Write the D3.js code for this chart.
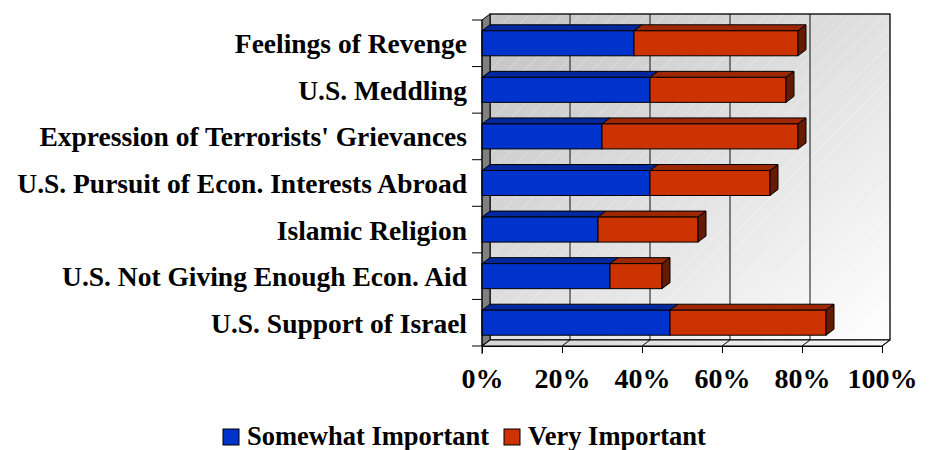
<!DOCTYPE html>
<html><head><meta charset="utf-8">
<script src="https://cdn.jsdelivr.net/npm/d3@7"></script>
<style>body{margin:0;background:#fff}svg{display:block}</style>
</head><body>
<script>
const categories = ["Feelings of Revenge","U.S. Meddling","Expression of Terrorists' Grievances","U.S. Pursuit of Econ. Interests Abroad","Islamic Religion","U.S. Not Giving Enough Econ. Aid","U.S. Support of Israel"];
const somewhat = [38, 42, 30, 42, 29, 32, 47];
const very = [41, 34, 49, 30, 25, 13, 39];
const seriesNames = ["Somewhat Important", "Very Important"];
const tickValues = [0, 20, 40, 60, 80, 100];
const tickLabels = ["0%", "20%", "40%", "60%", "80%", "100%"];

const W = 930, H = 450;
const DX = 8, DY = -6;
const x = d3.scaleLinear().domain([0, 100]).range([482, 882]);
const y = d3.scaleBand().domain(categories).range([20, 346]).padding(0);
const barH = 25;
const colors = {front: ["#0033cc", "#cc3300"], top: ["#00289c", "#9c2700"], side: ["#001a66", "#661a00"]};
const font = "'Liberation Serif','Times New Roman',serif";

const svg = d3.select("body").append("svg").attr("width", W).attr("height", H);
const defs = svg.append("defs");
const g1 = defs.append("linearGradient").attr("id", "wall").attr("x1", 0).attr("y1", 0).attr("x2", 1).attr("y2", 1);
g1.append("stop").attr("offset", "0%").attr("stop-color", "#c2c2c2");
g1.append("stop").attr("offset", "100%").attr("stop-color", "#ffffff");
const g2 = defs.append("linearGradient").attr("id", "floor").attr("x1", 0).attr("y1", 0).attr("x2", 1).attr("y2", 0);
g2.append("stop").attr("offset", "0%").attr("stop-color", "#d4d4d4");
g2.append("stop").attr("offset", "100%").attr("stop-color", "#f8f8f8");
const pat = defs.append("pattern").attr("id", "hatch").attr("patternUnits", "userSpaceOnUse").attr("width", 12).attr("height", 12).attr("patternTransform", "rotate(45)");
pat.append("line").attr("x1", 0).attr("y1", 0).attr("x2", 0).attr("y2", 12).attr("stroke", "#ffffff").attr("stroke-opacity", 0.35).attr("stroke-width", 1.5);

const [x0, x1] = x.range();
const [yTop, yBot] = y.range();
// back wall
svg.append("rect").attr("x", x0 + DX).attr("y", yTop + DY).attr("width", x1 - x0).attr("height", yBot - yTop).attr("fill", "url(#wall)");
svg.append("rect").attr("x", x0 + DX).attr("y", yTop + DY).attr("width", x1 - x0).attr("height", yBot - yTop).attr("fill", "url(#hatch)");
// gridlines
svg.append("g").selectAll("line").data(tickValues.slice(1, -1)).join("line")
  .attr("x1", d => x(d) + DX).attr("x2", d => x(d) + DX).attr("y1", yTop + DY).attr("y2", yBot + DY)
  .attr("stroke", "#111").attr("stroke-width", 1);
svg.append("rect").attr("x", x0 + DX).attr("y", yTop + DY).attr("width", x1 - x0).attr("height", yBot - yTop)
  .attr("fill", "none").attr("stroke", "#000").attr("stroke-width", 1.3);
// left wall
svg.append("path").attr("d", `M${x0},${yTop}L${x0 + DX},${yTop + DY}L${x0 + DX},${yBot + DY}L${x0},${yBot}Z`)
  .attr("fill", "#808080").attr("stroke", "#000").attr("stroke-width", 1);
// floor
svg.append("path").attr("d", `M${x0},${yBot}L${x1},${yBot}L${x1 + DX},${yBot + DY}L${x0 + DX},${yBot + DY}Z`)
  .attr("fill", "url(#floor)").attr("stroke", "#000").attr("stroke-width", 1);
svg.append("g").selectAll("line").data(tickValues).join("line")
  .attr("x1", d => x(d)).attr("y1", yBot).attr("x2", d => x(d) + DX).attr("y2", yBot + DY)
  .attr("stroke", "#000").attr("stroke-width", 1);

// bars
const rows = categories.map((c, i) => ({c, parts: [[0, somewhat[i]], [somewhat[i], somewhat[i] + very[i]]]}));
const bars = svg.append("g");
rows.forEach(r => {
  const yb = y(r.c) + (y.bandwidth() - barH) / 2;
  r.parts.forEach((p, k) => {
    const a = x(p[0]), b = x(p[1]);
    bars.append("path").attr("d", `M${a},${yb}L${a + DX},${yb + DY}L${b + DX},${yb + DY}L${b},${yb}Z`)
      .attr("fill", colors.top[k]).attr("stroke", "#000").attr("stroke-width", 1).attr("stroke-linejoin", "round");
    bars.append("rect").attr("x", a).attr("y", yb).attr("width", b - a).attr("height", barH)
      .attr("fill", colors.front[k]).attr("stroke", "#000").attr("stroke-width", 1);
    if (k === 1) {
      bars.append("path").attr("d", `M${b},${yb}L${b + DX},${yb + DY}L${b + DX},${yb + DY + barH}L${b},${yb + barH}Z`)
        .attr("fill", colors.side[k]).attr("stroke", "#000").attr("stroke-width", 1).attr("stroke-linejoin", "round");
    }
  });
});

// y axis
const yAxis = svg.append("g").attr("transform", `translate(${x0},0)`)
  .call(d3.axisLeft(y).tickSize(0).tickPadding(15));
yAxis.select(".domain").attr("stroke", "#000").attr("d", `M0,${yTop}V${yBot + 8}`);
yAxis.selectAll("text").attr("font-family", font).attr("font-weight", "bold").attr("font-size", 27.5)
  .attr("fill", "#000").attr("dy", null).attr("y", 10);
const bounds = categories.map(c => y(c)).concat([yBot]);
yAxis.append("g").selectAll("line").data(bounds).join("line")
  .attr("x1", -10).attr("x2", 0).attr("y1", d => d).attr("y2", d => d).attr("stroke", "#000");

// x axis
const xAxis = svg.append("g").attr("transform", `translate(0,${yBot})`)
  .call(d3.axisBottom(x).tickValues(tickValues).tickFormat((d, i) => tickLabels[i]).tickSize(7).tickSizeOuter(0));
xAxis.select(".domain").attr("stroke", "#000");
xAxis.selectAll(".tick line").attr("stroke", "#000");
xAxis.selectAll("text").attr("font-family", font).attr("font-weight", "bold").attr("font-size", 28)
  .attr("fill", "#000").attr("dy", null).attr("y", 42);

// legend
const lg = svg.append("g");
const legendX = [223, 504];
seriesNames.forEach((s, k) => {
  lg.append("rect").attr("x", legendX[k]).attr("y", 429).attr("width", 16).attr("height", 16)
    .attr("fill", colors.front[k]).attr("stroke", "#000").attr("stroke-width", 1);
  lg.append("text").attr("x", legendX[k] + 24).attr("y", 445).text(s)
    .attr("font-family", font).attr("font-weight", "bold").attr("font-size", 26.5).attr("fill", "#000");
});
</script>
</body></html>
